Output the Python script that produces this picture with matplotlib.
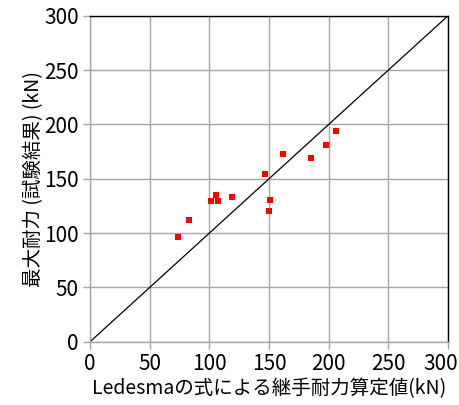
import matplotlib
matplotlib.use('Agg')
import matplotlib.pyplot as plt
import matplotlib.transforms as mtransforms

plt.rcParams['font.family'] = ['Noto Sans CJK JP', 'DejaVu Sans']

# calculated joint strength by Ledesma formula (kN)
calc_kN = [206.2, 197.5, 161.5, 185.5, 146.7, 105.3, 101.7, 107.0, 119.3, 151.2, 150.3, 82.7, 74.0]
# max strength from tests (kN)
test_kN = [193.6, 180.7, 172.7, 169.1, 154.6, 135.0, 129.5, 129.7, 133.1, 130.7, 120.5, 112.0, 96.6]
ticks = [0, 50, 100, 150, 200, 250, 300]

fig = plt.figure(figsize=(4.59, 4.05), dpi=100)
ax = fig.add_axes([0.196, 0.156, 0.78, 0.805])

ax.plot([0, 300], [0, 300], color='black', linewidth=0.9, zorder=2)
ax.plot(calc_kN, test_kN, linestyle='none', marker='s', markersize=5,
        color='#ff0000', markeredgewidth=0, zorder=3)

ax.set_xlim(0, 300)
ax.set_ylim(0, 300)
ax.set_xticks(ticks)
ax.set_yticks(ticks)
ax.grid(True, color='#a6a6a6', linewidth=1.0, zorder=0)
ax.set_axisbelow(True)

for s in ['left', 'bottom']:
    ax.spines[s].set_color('#a6a6a6')
    ax.spines[s].set_linewidth(1.0)
for s in ['top', 'right']:
    ax.spines[s].set_color('black')
    ax.spines[s].set_linewidth(1.0)

ax.tick_params(axis='both', direction='out', length=5, width=1.0, color='#a6a6a6',
               labelsize=15, pad=3)

# last x label would run off the right edge, nudge it left a bit
fig.canvas.draw()
last = ax.get_xticklabels()[-1]
last.set_transform(last.get_transform() + mtransforms.ScaledTranslation(-7/100, 0, fig.dpi_scale_trans))

ax.set_xlabel('Ledesmaの式による継手耐力算定値(kN)', fontsize=14, labelpad=2)
ax.set_ylabel('最大耐力 (試験結果) (kN)', fontsize=14, labelpad=0)

plt.savefig('out.png', dpi=100)
